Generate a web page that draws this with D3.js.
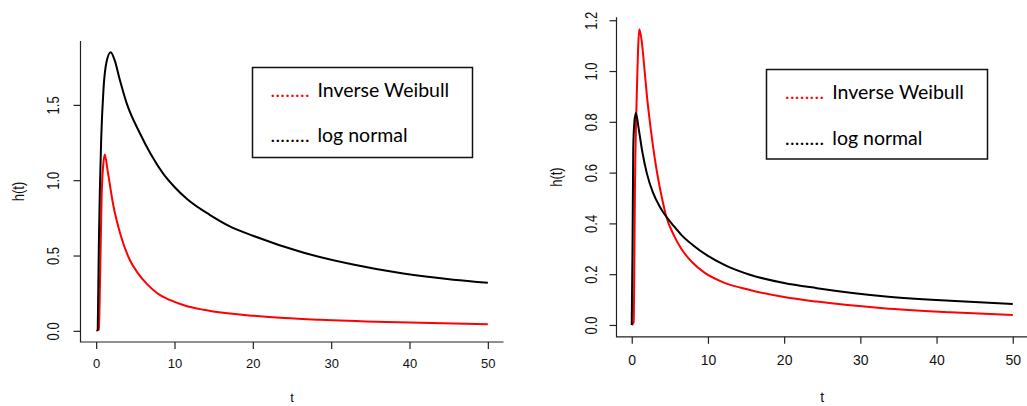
<!DOCTYPE html>
<html>
<head>
<meta charset="utf-8">
<script src="https://cdn.jsdelivr.net/npm/d3@7"></script>
<style>
  body { margin: 0; background: #fff; }
  svg { display: block; }
</style>
</head>
<body>
<svg id="chart" width="1027" height="406"></svg>
<script>
// data
const xTicks = [0, 10, 20, 30, 40, 50]
const leftYTicks = [0, 0.5, 1.0, 1.5]
const rightYTicks = [0, 0.2, 0.4, 0.6, 0.8, 1.0, 1.2]
const seriesNames = ["Inverse Weibull", "log normal"]
const seriesColors = ["#ff0000", "#000000"]

// left panel
const leftWeibullT = [0, 0.35, 0.5, 0.7, 0.9, 1.1, 1.5, 2.2, 3.1, 4.3, 5.3, 6.5, 7.8, 9.4, 11.5, 13.7, 16.5, 20.1, 24, 28.6, 37.1, 50]
const leftWeibullH = [0, 0.01, 0.35, 0.9, 1.1, 1.17, 1.05, 0.83, 0.64, 0.47, 0.385, 0.31, 0.25, 0.205, 0.165, 0.14, 0.118, 0.10, 0.085, 0.073, 0.058, 0.044]
const leftLognormT = [0.2, 0.35, 0.64, 0.93, 1.3, 1.85, 2.4, 3.0, 3.9, 5.6, 7, 8.6, 10, 11.6, 14.5, 17, 20.1, 26.4, 32.8, 39.2, 45.6, 50]
const leftLognormH = [0, 0.6, 1.27, 1.6, 1.78, 1.85, 1.79, 1.67, 1.51, 1.31, 1.17, 1.04, 0.955, 0.875, 0.77, 0.695, 0.63, 0.52, 0.44, 0.38, 0.34, 0.32]

// right panel
const rightWeibullT = [0, 0.25, 0.43, 0.7, 1.0, 1.3, 1.6, 2.0, 2.5, 3.0, 3.5, 4.0, 4.5, 5.5, 6.5, 8, 9.5, 12, 15.5, 20, 24.3, 33, 41.8, 50]
const rightWeibullH = [0, 0.01, 0.56, 0.95, 1.165, 1.12, 1.03, 0.90, 0.77, 0.66, 0.57, 0.495, 0.43, 0.355, 0.30, 0.245, 0.207, 0.168, 0.138, 0.11, 0.092, 0.066, 0.05, 0.039]
const rightLognormT = [0, 0.1, 0.2, 0.35, 0.55, 0.9, 1.4, 2.0, 2.8, 3.7, 4.5, 5.5, 6.5, 8, 10, 12.5, 15.5, 20, 24.3, 33, 41.8, 50]
const rightLognormH = [0, 0.3, 0.7, 0.8, 0.835, 0.775, 0.68, 0.595, 0.52, 0.465, 0.428, 0.39, 0.355, 0.315, 0.272, 0.232, 0.198, 0.165, 0.145, 0.113, 0.095, 0.083]

const svg = d3.select("#chart")
const FONT = "'Liberation Sans', Arial, Helvetica, sans-serif"
const LEGEND_FONT = "Lato, 'Open Sans', sans-serif"

function zip(ts, hs) {
    return ts.map((t, i) => ({ t: t, h: hs[i] }))
}

function drawPanel(p) {
    const allH = p.series.flatMap(s => s.h)
    const maxH = d3.max(allH)
    const padY = maxH * 0.04
    // R style 4% extension of the data range
    const x = d3.scaleLinear().domain([-2, 52]).range([p.left, p.right])
    const y = d3.scaleLinear().domain([-padY, maxH + padY]).range([p.bottom, p.top])

    const g = svg.append("g")

    // bty = "l"
    g.append("path")
        .attr("d", `M${p.left},${p.top}V${p.bottom}H${p.right}`)
        .attr("fill", "none")
        .attr("stroke", "#222")
        .attr("stroke-width", 1.2)

    // x axis
    const xAxis = g.append("g")
        .attr("transform", `translate(0, ${p.bottom})`)
        .call(d3.axisBottom(x).tickValues(xTicks).tickSize(7).tickPadding(p.xPad).tickFormat(d3.format("d")))
    xAxis.select(".domain").remove()
    xAxis.selectAll("line").attr("stroke", "#222").attr("stroke-width", 1.2)
    xAxis.selectAll("text")
        .attr("font-family", FONT)
        .attr("font-size", p.xFont)
        .attr("fill", "#111")

    // y axis, labels parallel to the axis
    const yAxis = g.append("g")
        .attr("transform", `translate(${p.left}, 0)`)
        .call(d3.axisLeft(y).tickValues(p.yTicks).tickSize(7).tickFormat(d3.format(".1f")))
    yAxis.select(".domain").remove()
    yAxis.selectAll("line").attr("stroke", "#222").attr("stroke-width", 1.2)
    yAxis.selectAll("text")
        .attr("x", null).attr("dy", null)
        .attr("text-anchor", "middle")
        .attr("dominant-baseline", "central")
        .attr("font-family", FONT)
        .attr("font-size", p.yFont)
        .attr("fill", "#111")
        .attr("transform", `translate(${p.yLabX - p.left}, 0) scale(1.2, 1) rotate(-90)`)

    // axis titles
    g.append("text")
        .attr("x", (p.left + p.right) / 2)
        .attr("y", 397)
        .attr("text-anchor", "middle")
        .attr("dominant-baseline", "central")
        .attr("font-family", FONT)
        .attr("font-size", p.xFont)
        .attr("fill", "#111")
        .text("t")
    g.append("text")
        .attr("transform", `translate(${p.titleX}, ${(p.top + p.bottom) / 2}) scale(1.2, 1) rotate(-90)`)
        .attr("text-anchor", "middle")
        .attr("dominant-baseline", "central")
        .attr("font-family", FONT)
        .attr("font-size", p.yFont)
        .attr("fill", "#111")
        .text("h(t)")

    // curves
    const line = d3.line()
        .x(d => x(d.t))
        .y(d => y(d.h))
        .curve(d3.curveMonotoneX)

    p.series.forEach(s => {
        g.append("path")
            .attr("d", line(zip(s.t, s.h)))
            .attr("fill", "none")
            .attr("stroke", s.color)
            .attr("stroke-width", 2)
            .attr("stroke-linejoin", "round")
    })

    // legend box
    const lg = g.append("g")
    lg.append("rect")
        .attr("x", p.legend.x).attr("y", p.legend.y)
        .attr("width", p.legend.w).attr("height", p.legend.h)
        .attr("fill", "#fff")
        .attr("stroke", "#111")
        .attr("stroke-width", 1.5)
    seriesNames.forEach((name, i) => {
        const by = p.legend.base[i]
        lg.append("text")
            .attr("x", p.legend.dotX).attr("y", by)
            .attr("font-family", LEGEND_FONT)
            .attr("font-size", 19.5)
            .attr("fill", seriesColors[i])
            .attr("textLength", 39)
            .attr("lengthAdjust", "spacing")
            .text("........")
        lg.append("text")
            .attr("x", p.legend.textX).attr("y", by)
            .attr("font-family", LEGEND_FONT)
            .attr("font-size", 19.5)
            .attr("fill", "#000")
            .text(name)
    })
}

drawPanel({
    left: 80.5, right: 503.5, top: 41, bottom: 342,
    yTicks: leftYTicks, yLabX: 53.5, titleX: 18.5,
    xFont: 13, yFont: 13, xPad: 10,
    series: [
        { t: leftWeibullT, h: leftWeibullH, color: seriesColors[0] },
        { t: leftLognormT, h: leftLognormH, color: seriesColors[1] }
    ],
    legend: { x: 252.5, y: 67.5, w: 220, h: 90, dotX: 270.5, textX: 317.5, base: [96.7, 141.7] }
})

drawPanel({
    left: 616.5, right: 1028, top: 17.3, bottom: 336.8,
    yTicks: rightYTicks, yLabX: 591.7, titleX: 556.7,
    xFont: 14, yFont: 13, xPad: 11,
    series: [
        { t: rightWeibullT, h: rightWeibullH, color: seriesColors[0] },
        { t: rightLognormT, h: rightLognormH, color: seriesColors[1] }
    ],
    legend: { x: 766.5, y: 69.5, w: 221, h: 89.5, dotX: 785, textX: 832.3, base: [99.3, 145] }
})
</script>
</body>
</html>
